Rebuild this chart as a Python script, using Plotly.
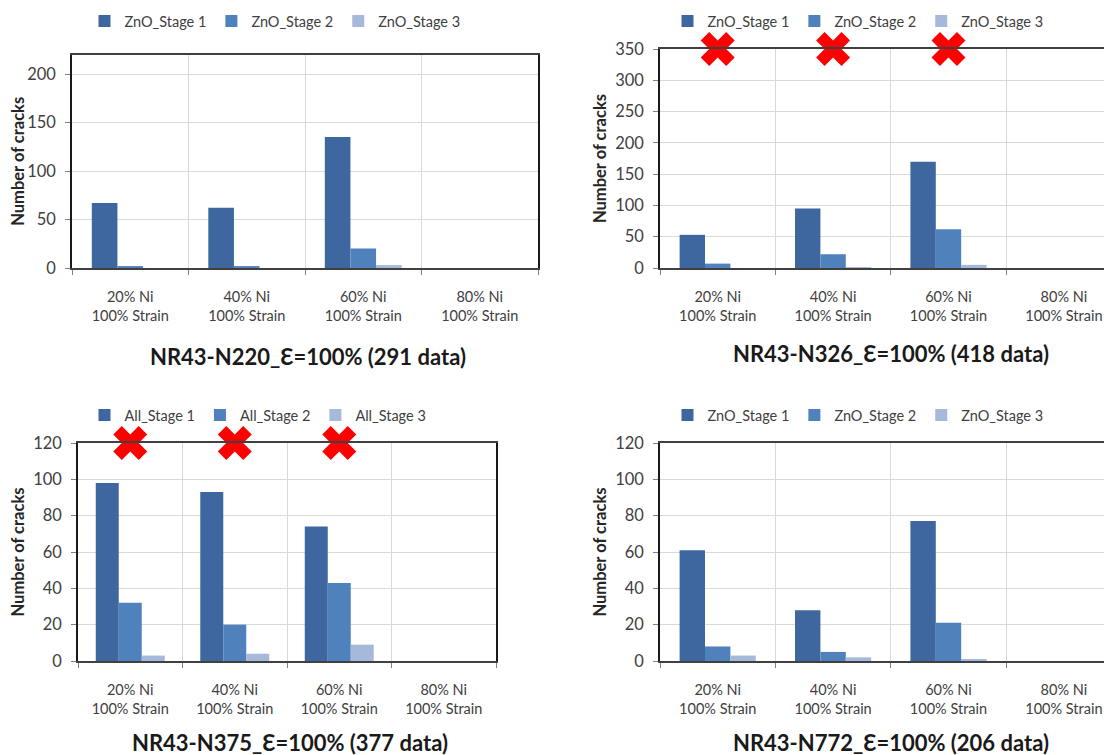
import plotly.graph_objects as go

# ---------------- data ----------------
categories = ["20% Ni<br>100% Strain", "40% Ni<br>100% Strain",
              "60% Ni<br>100% Strain", "80% Ni<br>100% Strain"]

zno_series = ["ZnO_Stage 1", "ZnO_Stage 2", "ZnO_Stage 3"]
all_series = ["All_Stage 1", "All_Stage 2", "All_Stage 3"]

n220_stage1 = [67, 62, 135, 0]
n220_stage2 = [2, 2, 20, 0]
n220_stage3 = [0, 0, 3, 0]

n326_stage1 = [53, 95, 170, 0]
n326_stage2 = [7, 22, 62, 0]
n326_stage3 = [0, 1, 5, 0]

n375_stage1 = [98, 93, 74, 0]
n375_stage2 = [32, 20, 43, 0]
n375_stage3 = [3, 4, 9, 0]

n772_stage1 = [61, 28, 77, 0]
n772_stage2 = [8, 5, 21, 0]
n772_stage3 = [3, 2, 1, 0]

titles = ["NR43-N220_Ɛ=100% (291 data)", "NR43-N326_Ɛ=100% (418 data)",
          "NR43-N375_Ɛ=100% (377 data)", "NR43-N772_Ɛ=100% (206 data)"]

# categories crossed out (red X) per panel
crossed_n326 = categories[:3]
crossed_n375 = categories[:3]

y_max = [220, 350, 120, 120]
y_dtick = [50, 50, 20, 20]

# ---------------- style ----------------
OFF = 8                       # default page body margin
W, H = 1112 - OFF, 755 - OFF
colors = ["#3D679E", "#4F81BD", "#A6B9DB"]
FONT = "Lato, 'Open Sans', sans-serif"
TXT = "#404040"

def px(x):
    return (x - OFF) / W

def py(y):
    return 1 - (y - OFF) / H

# panel geometry (window pixels): left, right, top, bottom; x-range end
panels = [
    dict(l=72, r=538, t=54.6, b=268, xr=3.5, leg=(275, 21), title=(308, 356)),
    dict(l=660, r=1112, t=49, b=268, xr=3.417, leg=(858, 21), title=(891, 353)),
    dict(l=78, r=496, t=443, b=661, xr=3.5, leg=(258, 415), title=(290, 742)),
    dict(l=660, r=1112, t=443, b=661, xr=3.417, leg=(858, 415), title=(891, 742)),
]

panel_data = [
    (zno_series, [n220_stage1, n220_stage2, n220_stage3], []),
    (zno_series, [n326_stage1, n326_stage2, n326_stage3], crossed_n326),
    (all_series, [n375_stage1, n375_stage2, n375_stage3], crossed_n375),
    (zno_series, [n772_stage1, n772_stage2, n772_stage3], []),
]

fig = go.Figure()
annotations = []
layout = {}

for i, (p, (names, series, crossed)) in enumerate(zip(panels, panel_data)):
    k = "" if i == 0 else str(i + 1)
    xa, ya = "x" + k, "y" + k
    leg = "legend" + k
    for name, vals, c in zip(names, series, colors):
        fig.add_trace(go.Bar(x=categories, y=vals, name=name, marker_color=c,
                             marker_line_width=0, xaxis=xa, yaxis=ya,
                             legend=leg))
    if crossed:
        fig.add_trace(go.Scatter(x=crossed, y=[y_max[i]] * len(crossed),
                                 mode="markers", xaxis=xa, yaxis=ya,
                                 showlegend=False, cliponaxis=False,
                                 marker=dict(symbol="x", size=30, color="#FF0000",
                                             line=dict(width=0))))
    right_visible = p["xr"] >= 3.5
    layout["xaxis" + k] = dict(
        domain=[px(p["l"]), min(1, px(p["r"]))], anchor=ya, type="category",
        range=[-0.5, p["xr"]], tickson="boundaries", showgrid=True,
        gridcolor="#D9D9D9", gridwidth=1, ticks="outside", ticklen=5,
        tickcolor="#808080", showline=True, linecolor="#404040", linewidth=2,
        mirror=True, tickfont=dict(family=FONT, size=14.5, color=TXT),
        ticklabelstandoff=15,
        automargin=False, fixedrange=True)
    layout["yaxis" + k] = dict(
        domain=[py(p["b"]), py(p["t"])], anchor=xa, range=[0, y_max[i]],
        dtick=y_dtick[i], showgrid=True, gridcolor="#D9D9D9", gridwidth=1,
        ticks="outside", ticklen=5, tickcolor="#808080", showline=True,
        linecolor="#1a1a1a", linewidth=1.5, mirror=right_visible,
        zeroline=False, tickfont=dict(family=FONT, size=16.5, color=TXT),
        ticklabelstandoff=6,
        title=dict(text="<b>Number of cracks</b>",
                   font=dict(family=FONT, size=16.5, color="#262626"),
                   standoff=4),
        automargin=False, fixedrange=True)
    layout[leg] = dict(
        orientation="h", x=px(p["leg"][0]), y=py(p["leg"][1]),
        xanchor="center", yanchor="middle", xref="paper", yref="paper",
        font=dict(family=FONT, size=14.5, color=TXT), itemwidth=30,
        bgcolor="rgba(0,0,0,0)", traceorder="normal", itemclick=False)
    annotations.append(dict(
        text="<b>" + titles[i] + "</b>", x=px(p["title"][0]), y=py(p["title"][1]),
        xref="paper", yref="paper", xanchor="center", yanchor="middle",
        showarrow=False, font=dict(family=FONT, size=22, color="#1a1a1a")))

fig.update_layout(
    width=W, height=H, margin=dict(l=0, r=0, t=0, b=0, autoexpand=False),
    paper_bgcolor="white", plot_bgcolor="white",
    barmode="group", bargap=0.34, bargroupgap=0,
    annotations=annotations, **layout)

fig.write_html("out.html", config={"displayModeBar": False})
